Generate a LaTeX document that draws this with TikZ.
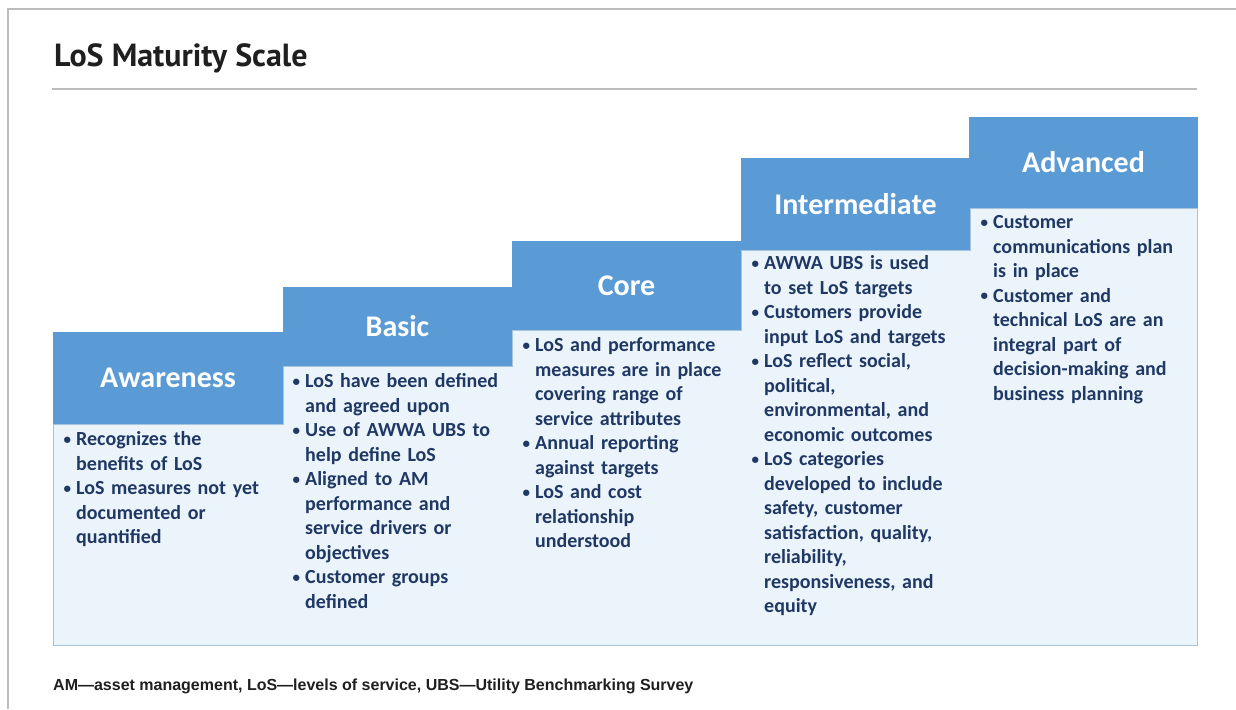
\documentclass[tikz,border=0pt]{standalone}
\usepackage{fontspec}
\setmainfont{Carlito}
\newfontfamily\captionfont{PT Sans}
\newfontfamily\notefont{Liberation Sans}
\usepackage{xcolor}
\usetikzlibrary{positioning}

\definecolor{losblue}{HTML}{5B9BD5}
\definecolor{loslight}{HTML}{EBF3FB}
\definecolor{losedge}{HTML}{A8C3DC}
\definecolor{losnavy}{HTML}{1F3864}
\definecolor{losframe}{HTML}{BDBDBD}

% one bullet point with hanging indent
\newcommand{\lositem}[1]{\par\noindent\hangindent=14pt\hangafter=1\makebox[14pt][l]{\hspace{1.5pt}\raisebox{1.5pt}{\scalebox{0.75}{\textbullet}}}{\let\\\newline #1}\par}

\begin{document}
\begin{tikzpicture}[
x=1pt, y=-1pt,
    stage/.style={fill=losblue, text=white, minimum width=229.5pt, inner sep=0pt, font=\fontsize{30}{36}\selectfont\bfseries},
    points/.style={anchor=north west, inner sep=0pt, text width=220pt, text=losnavy, font=\fontsize{20}{24.5}\selectfont\bfseries\raggedright},
    rule/.style={draw=losframe, line width=1.5pt}
]
    \useasboundingbox (0,0) rectangle (1236,709);

    % --- Frame and title ---
    \draw[draw=losframe, line width=1.2pt] (8,709) -- (8,9) -- (1236,9);
    \node[anchor=west, inner sep=0pt, font=\captionfont\fontsize{32}{36}\selectfont\bfseries, text=black!88] (title) at (54,58) {LoS Maturity Scale};
    \coordinate (ruleL) at (52,89);
    \coordinate (ruleR) at (1197,89);
    \draw[rule] (ruleL) -- (ruleR);

    % --- Light body of the staircase ---
    \draw[fill=loslight, draw=losedge, line width=1pt]
        (53,424) -- (53,645) -- (1197,645) -- (1197,208) -- (970,208) -- (970,250)
        -- (741,250) -- (741,330) -- (512,330) -- (512,366) -- (283,366) -- (283,424) -- cycle;

    % --- Stage headers ---
    \node[stage, minimum height=92pt] (aware) at (168,378) {Awareness};
    \node[stage, minimum height=79pt] (basic) at (397.5,326.5) {Basic};
    \node[stage, minimum height=89pt] (core) at (626.5,285.5) {Core};
    \node[stage, minimum height=92pt] (inter) at (855.5,204) {Intermediate};
    \node[stage, minimum height=91pt] (adv) at (1083.5,162.5) {Advanced};

    % --- Stage contents ---
    \node[points] (awaretxt) at (62,421) {%
        \lositem{Recognizes the\\benefits of LoS}
        \lositem{LoS measures not yet\\documented or\\quantified}};

    \node[points] (basictxt) at (291,363) {%
        \lositem{LoS have been defined\\and agreed upon}
        \lositem{Use of AWWA UBS to\\help define LoS}
        \lositem{Aligned to AM\\performance and\\service drivers or\\objectives}
        \lositem{Customer groups\\defined}};

    \node[points] (coretxt) at (521,327) {%
        \lositem{LoS and performance\\measures are in place\\covering range of\\service attributes}
        \lositem{Annual reporting\\against targets}
        \lositem{LoS and cost\\relationship\\understood}};

    \node[points] (intertxt) at (750,245) {%
        \lositem{AWWA UBS is used\\to set LoS targets}
        \lositem{Customers provide\\input LoS and targets}
        \lositem{LoS reflect social,\\political,\\environmental, and\\economic outcomes}
        \lositem{LoS categories\\developed to include\\safety, customer\\satisfaction, quality,\\reliability,\\responsiveness, and\\equity}};

    \node[points] (advtxt) at (979,204) {%
        \lositem{Customer\\communications plan\\is in place}
        \lositem{Customer and\\technical LoS are an\\integral part of\\decision-making and\\business planning}};

    % --- Footnote ---
    \node[anchor=west, inner sep=0pt, font=\notefont\fontsize{16}{19}\selectfont\bfseries, text=black!88] (note) at (53,686)
        {AM—asset management, LoS—levels of service, UBS—Utility Benchmarking Survey};

\end{tikzpicture}
\end{document}
